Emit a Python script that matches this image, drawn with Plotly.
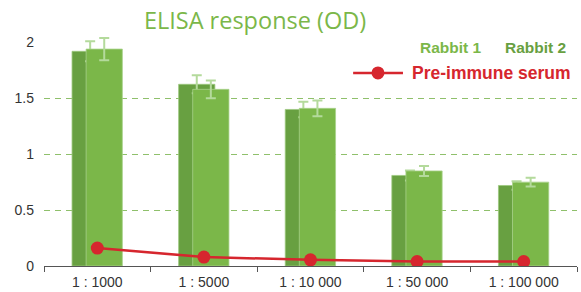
import plotly.graph_objects as go

categories = ["1 : 1000", "1 : 5000", "1 : 10 000", "1 : 50 000", "1 : 100 000"]
rabbit2_values = [1.92, 1.625, 1.40, 0.81, 0.72]     # dark, left bar
rabbit2_errors = [0.09, 0.08, 0.07, 0.045, 0.037]
rabbit1_values = [1.94, 1.58, 1.41, 0.85, 0.75]      # light, right bar
rabbit1_errors = [0.10, 0.08, 0.07, 0.045, 0.04]
preimmune_values = [0.16, 0.08, 0.055, 0.04, 0.04]
y_ticks = [0, 0.5, 1, 1.5, 2]
y_tick_labels = ["0", "0.5", "1", "1.5", "2"]
grid_vals = [0.5, 1, 1.5]

DARK = "#68a041"
LIGHT = "#7bb749"
ERR = "#b4da9c"
RED = "#d6262e"

fig = go.Figure()
fig.add_trace(go.Bar(
    x=categories, y=rabbit2_values, name="Rabbit 2",
    width=0.34, offset=-0.237,
    marker=dict(color=DARK, line=dict(color="#9cc87e", width=0.8)),
    error_y=dict(type="data", array=rabbit2_errors, color=ERR, thickness=2, width=5),
    showlegend=False,
))
fig.add_trace(go.Bar(
    x=categories, y=rabbit1_values, name="Rabbit 1",
    width=0.34, offset=-0.105,
    marker=dict(color=LIGHT, line=dict(color="#a8d28c", width=0.8)),
    error_y=dict(type="data", array=rabbit1_errors, color=ERR, thickness=2, width=5),
    showlegend=False,
))
fig.add_trace(go.Scatter(
    x=categories, y=preimmune_values, name="Pre-immune serum",
    mode="lines+markers",
    line=dict(color=RED, width=2.5),
    marker=dict(color=RED, size=13),
    showlegend=False,
))
# dummy trace to activate yaxis2 gridlines
fig.add_trace(go.Scatter(x=[categories[0]], y=[None], yaxis="y2", showlegend=False, hoverinfo="skip"))

# legend key for the pre-immune series (drawn as layout decoration)
LEG_Y = 0.785
fig.add_shape(type="line", xref="paper", yref="paper", x0=0.58, x1=0.6735, y0=LEG_Y, y1=LEG_Y,
              line=dict(color=RED, width=2.5))
fig.add_shape(type="circle", xref="paper", yref="paper", xsizemode="pixel", ysizemode="pixel",
              xanchor=0.6266, yanchor=LEG_Y, x0=-6.5, x1=6.5, y0=-6.5, y1=6.5,
              fillcolor=RED, line=dict(color=RED, width=0))

fig.update_layout(
    width=581, height=292,
    margin=dict(l=44, r=4, t=20, b=26, autoexpand=False),
    paper_bgcolor="white", plot_bgcolor="white",
    barmode="overlay",
    showlegend=False,
    font=dict(family="Liberation Sans, Arial, sans-serif", size=14, color="#333333"),
    title=dict(text="ELISA response (OD)", x=0.439, xanchor="center", y=0.93, yanchor="middle",
               font=dict(family="Open Sans, sans-serif", size=23.5, color="#7bb749")),
    xaxis=dict(
        type="category", range=[-0.5, 4.5], automargin=False,
        showline=True, linecolor="#555555", linewidth=1,
        ticks="outside", tickson="boundaries", ticklen=5, tickcolor="#555555",
        showgrid=False, zeroline=False, ticklabelstandoff=3,
        tickfont=dict(size=14, color="#333333"),
    ),
    yaxis=dict(
        range=[0, 2.2], tickvals=y_ticks, ticktext=y_tick_labels, automargin=False,
        showgrid=False, zeroline=False, showline=False, ticks="",
        ticklabelstandoff=9,
        tickfont=dict(size=14, color="#333333"),
    ),
    yaxis2=dict(
        overlaying="y", range=[0, 2.2], tickvals=grid_vals, automargin=False,
        showticklabels=False, showgrid=True, gridcolor="#8fc06b", gridwidth=1,
        griddash="6px,5px", zeroline=False, showline=False,
    ),
    annotations=[
        dict(text="<b>Rabbit 1</b>", x=0.764, y=0.89, xref="paper", yref="paper",
             xanchor="center", yanchor="middle",
             showarrow=False, font=dict(size=15.5, color="#7bb749")),
        dict(text="<b>Rabbit 2</b>", x=0.923, y=0.89, xref="paper", yref="paper",
             xanchor="center", yanchor="middle",
             showarrow=False, font=dict(size=15.5, color="#68a041")),
        dict(text="<b>Pre-immune serum</b>", x=0.6867, y=LEG_Y, xref="paper", yref="paper",
             xanchor="left", yanchor="middle",
             showarrow=False, font=dict(size=17.5, color=RED)),
    ],
)

fig.write_html("out.html", config={"displayModeBar": False},
               post_script="document.body.style.margin='0';document.body.style.padding='0';")
